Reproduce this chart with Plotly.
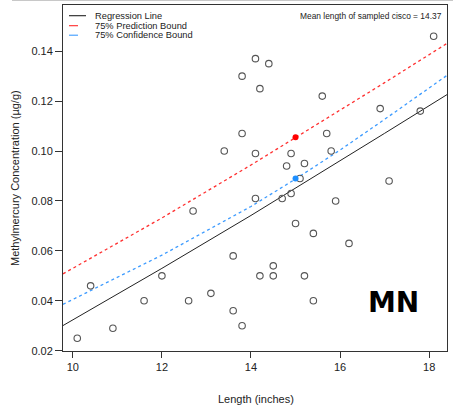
import plotly.graph_objects as go

# Sampled fish: length (inches) and methylmercury concentration (ug/g)
length_in = [10.1, 10.4, 10.9, 11.6, 12.0, 12.6, 12.7, 13.1, 13.4, 13.6, 13.6, 13.8, 13.8, 13.8,
             14.1, 14.1, 14.1, 14.2, 14.2, 14.4, 14.5, 14.5, 14.7, 14.8, 14.9, 14.9, 15.0, 15.1,
             15.2, 15.2, 15.4, 15.4, 15.6, 15.7, 15.8, 15.9, 16.2, 16.9, 17.1, 17.8, 18.1]
mehg = [0.025, 0.046, 0.029, 0.040, 0.050, 0.040, 0.076, 0.043, 0.100, 0.058, 0.036, 0.130, 0.107, 0.030,
        0.137, 0.099, 0.081, 0.125, 0.050, 0.135, 0.054, 0.050, 0.081, 0.094, 0.099, 0.083, 0.071, 0.089,
        0.095, 0.050, 0.067, 0.040, 0.122, 0.107, 0.100, 0.080, 0.063, 0.117, 0.088, 0.116, 0.146]

# Model curves
curve_x = [9.78, 12.0, 14.0, 15.0, 16.0, 17.0, 18.4]
regression_y = [0.0301, 0.0530, 0.0742, 0.0851, 0.0960, 0.1071, 0.1226]
prediction_y = [0.0508, 0.0732, 0.0944, 0.1053, 0.1162, 0.1274, 0.1431]
confidence_y = [0.0386, 0.0583, 0.0778, 0.0888, 0.1004, 0.1127, 0.1303]

pred_point = (15.0, 0.1055)
conf_point = (15.0, 0.0890)

x_ticks = [10, 12, 14, 16, 18]
y_ticks = [0.02, 0.04, 0.06, 0.08, 0.10, 0.12, 0.14]

legend_labels = ["Regression Line", "75% Prediction Bound", "75% Confidence Bound"]
legend_colors = ["#222222", "#ff2a2a", "#3d9bff"]
legend_dash = ["solid", "dash", "dash"]

FONT = "Liberation Sans, Arial, sans-serif"

fig = go.Figure()
fig.add_trace(go.Scatter(x=curve_x, y=regression_y, mode="lines", line=dict(color="#222222", width=1),
                         name=legend_labels[0], hoverinfo="skip"))
fig.add_trace(go.Scatter(x=curve_x, y=prediction_y, mode="lines",
                         line=dict(color="#ff3030", width=1.3, dash="dot"),
                         name=legend_labels[1], hoverinfo="skip"))
fig.add_trace(go.Scatter(x=curve_x, y=confidence_y, mode="lines",
                         line=dict(color="#3d9bff", width=1.3, dash="dot"),
                         name=legend_labels[2], hoverinfo="skip"))
fig.add_trace(go.Scatter(x=length_in, y=mehg, mode="markers",
                         marker=dict(symbol="circle-open", size=6.5, color="#555555", line=dict(width=1.1)),
                         name="Samples"))
fig.add_trace(go.Scatter(x=[pred_point[0]], y=[pred_point[1]], mode="markers",
                         marker=dict(symbol="circle", size=6, color="#ff0000"), name="Prediction at mean"))
fig.add_trace(go.Scatter(x=[conf_point[0]], y=[conf_point[1]], mode="markers",
                         marker=dict(symbol="circle", size=6, color="#1e8fff"), name="Confidence at mean"))

W, H = 453, 412
L, R, T, B = 63, 6, 5, 61
pw, ph = W - L - R, H - T - B

def px(xpix):
    return (xpix - L) / pw

def py(ypix):
    return (H - B - ypix) / ph

shapes = []
annotations = []
legend_y = [15.7, 25.7, 35.2]
for lab, col, dsh, yy in zip(legend_labels, legend_colors, legend_dash, legend_y):
    shapes.append(dict(type="line", xref="paper", yref="paper", x0=px(69), x1=px(86), y0=py(yy), y1=py(yy),
                       line=dict(color=col, width=1.1, dash=dsh)))
    annotations.append(dict(xref="paper", yref="paper", x=px(92.5), y=py(yy), text=lab, showarrow=False,
                            xanchor="left", yanchor="middle", font=dict(family=FONT, size=9.3, color="#222222")))

annotations.append(dict(xref="paper", yref="paper", x=px(444), y=py(15.5), text="Mean length of sampled cisco = 14.37",
                        showarrow=False, xanchor="right", yanchor="middle",
                        font=dict(family=FONT, size=8.4, color="#222222")))
annotations.append(dict(xref="paper", yref="paper", x=px(393.8), y=py(302), text="<b>MN</b>",
                        showarrow=False, xanchor="center", yanchor="middle",
                        font=dict(family="DejaVu Sans", size=28, color="#000000")))
annotations.append(dict(xref="paper", yref="paper", x=px(15), y=py(178), text="Methylmercury Concentration (µg/g)",
                        showarrow=False, xanchor="center", yanchor="middle", textangle=-90,
                        font=dict(family=FONT, size=11, color="#222222")))
annotations.append(dict(xref="paper", yref="paper", x=px(256), y=py(399), text="Length (inches)",
                        showarrow=False, xanchor="center", yanchor="middle",
                        font=dict(family=FONT, size=11, color="#222222")))

# faint screenshot border at top
shapes.append(dict(type="line", xref="paper", yref="paper", x0=px(12), x1=px(453), y0=py(0.5), y1=py(0.5),
                   line=dict(color="#c8c8c8", width=1)))

fig.update_layout(
    width=W, height=H,
    margin=dict(l=L, r=R, t=T, b=B),
    paper_bgcolor="white", plot_bgcolor="white",
    showlegend=False,
    shapes=shapes, annotations=annotations,
    font=dict(family=FONT, size=11, color="#222222"),
)
fig.update_xaxes(range=[9.78, 18.40], tickvals=x_ticks, ticktext=[str(v) for v in x_ticks], automargin=False,
                 showgrid=False, zeroline=False, showline=True, mirror=True, linecolor="#333333", linewidth=1,
                 ticks="outside", ticklen=6, tickcolor="#333333")
fig.update_yaxes(range=[0.0199, 0.1585], tickvals=y_ticks, ticktext=[f"{v:.2f}" for v in y_ticks], automargin=False,
                 showgrid=False, zeroline=False, showline=True, mirror=True, linecolor="#333333", linewidth=1,
                 ticks="outside", ticklen=7, tickcolor="#333333")

fig.write_html("out.html", config={"displayModeBar": False},
               post_script="document.body.style.margin='0px';document.body.style.overflow='hidden';")
